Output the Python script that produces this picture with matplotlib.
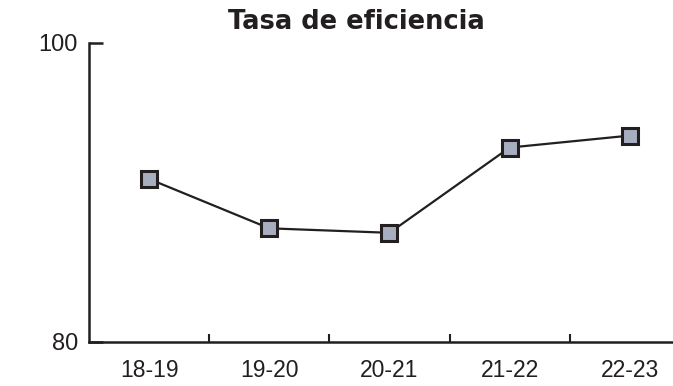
import numpy as np
import matplotlib.pyplot as plt

cursos = ["18-19", "19-20", "20-21", "21-22", "22-23"]
tasa = [90.9, 87.6, 87.3, 93.0, 93.8]

ink = "#231f20"

fig = plt.figure(figsize=(6.73, 3.86), dpi=100)
ax = fig.add_axes([0.1322, 0.114, 0.893, 0.775])

x = np.arange(len(cursos))
ax.plot(x, tasa, color=ink, linewidth=1.6, marker="s", markersize=11,
        markerfacecolor="#a6aec0", markeredgecolor=ink, markeredgewidth=2.2,
        clip_on=False, zorder=3)

ax.set_xlim(-0.5, len(cursos) - 0.5)
ax.set_ylim(80, 100)

for side in ["top", "right"]:
    ax.spines[side].set_visible(False)
for side in ["left", "bottom"]:
    ax.spines[side].set_color(ink)
    ax.spines[side].set_linewidth(1.8)

ax.set_yticks([80, 100])
ax.set_yticklabels(["80", "100"])
ax.tick_params(axis="y", direction="in", length=10, width=1.8, color=ink,
               pad=8, labelsize=17, labelcolor=ink)

ax.set_xticks(x)
ax.set_xticklabels(cursos)
ax.set_xticks(np.arange(0.5, len(cursos) - 0.5), minor=True)
ax.tick_params(axis="x", which="major", length=0, pad=12, labelsize=16.5,
               labelcolor=ink)
ax.tick_params(axis="x", which="minor", direction="in", length=6, width=1.5,
               color=ink)

for lbl in ax.get_xticklabels() + ax.get_yticklabels():
    lbl.set_family("Liberation Sans")

fig.text(0.53, 0.943, "Tasa de eficiencia", ha="center", va="center",
         fontsize=18.5, fontweight="bold", family="DejaVu Sans", color=ink)

fig.savefig("out.png", dpi=100)
